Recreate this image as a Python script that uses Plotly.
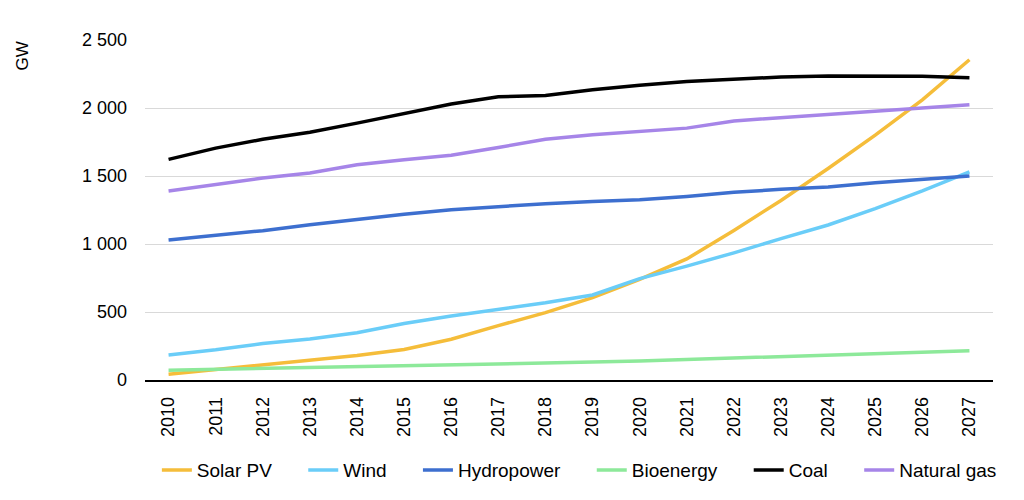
import plotly.graph_objects as go

years = [str(y) for y in range(2010, 2028)]

solar_pv = [42, 75, 108, 142, 180, 225, 300, 400, 495, 605, 740, 890, 1100, 1320, 1555, 1800, 2060, 2355]
wind = [184, 222, 268, 302, 348, 416, 470, 518, 568, 625, 745, 837, 935, 1040, 1140, 1260, 1390, 1530]
hydropower = [1030, 1062, 1098, 1142, 1182, 1218, 1252, 1276, 1296, 1312, 1326, 1350, 1380, 1402, 1420, 1450, 1478, 1500]
bioenergy = [72, 78, 85, 92, 98, 105, 112, 118, 125, 132, 140, 150, 160, 170, 180, 192, 203, 215]
coal = [1622, 1705, 1770, 1822, 1889, 1960, 2030, 2082, 2092, 2134, 2168, 2195, 2210, 2228, 2236, 2236, 2233, 2222]
natural_gas = [1390, 1438, 1485, 1522, 1583, 1620, 1652, 1710, 1770, 1803, 1830, 1852, 1905, 1928, 1953, 1978, 2002, 2024]

series = [
    ("Solar PV", solar_pv, "#F5BD3A"),
    ("Wind", wind, "#6ACDF8"),
    ("Hydropower", hydropower, "#3D6FCF"),
    ("Bioenergy", bioenergy, "#8DE99A"),
    ("Coal", coal, "#000000"),
    ("Natural gas", natural_gas, "#A685E8"),
]

pad = "\u00a0" * 5  # wider gaps between legend entries

fig = go.Figure()
for i, (name, vals, color) in enumerate(series):
    label = name if i == len(series) - 1 else name + pad
    fig.add_trace(go.Scatter(x=years, y=vals, name=label, mode="lines",
                             line=dict(color=color, width=3.5)))

# page has an 8px body margin, so margins are offset by that
fig.update_layout(
    width=1024, height=500,
    margin=dict(l=137, r=39, t=32, b=128),
    plot_bgcolor="white", paper_bgcolor="white",
    font=dict(family="Liberation Sans, Arial", size=18, color="black"),
    separators=". ",
    showlegend=True,
    legend=dict(orientation="h", x=0.014, xanchor="left", y=-0.265, yanchor="middle",
                font=dict(size=19), itemwidth=30, tracegroupgap=0),
)
fig.update_xaxes(type="category", range=[-0.5, 17.5], tickangle=-90, showgrid=False,
                 showline=True, linecolor="black", linewidth=1.5, ticks="",
                 ticklabelstandoff=8)
fig.update_yaxes(range=[0, 2500], dtick=500, tickformat=",d", showgrid=True,
                 gridcolor="#d9d9d9", gridwidth=1, zeroline=False, ticks="",
                 ticklabelstandoff=17)
fig.add_annotation(text="GW", xref="paper", yref="paper", x=-0.145, y=1.0,
                   xanchor="center", yanchor="top", textangle=-90, showarrow=False,
                   font=dict(size=17))

fig.write_html("out.html")
